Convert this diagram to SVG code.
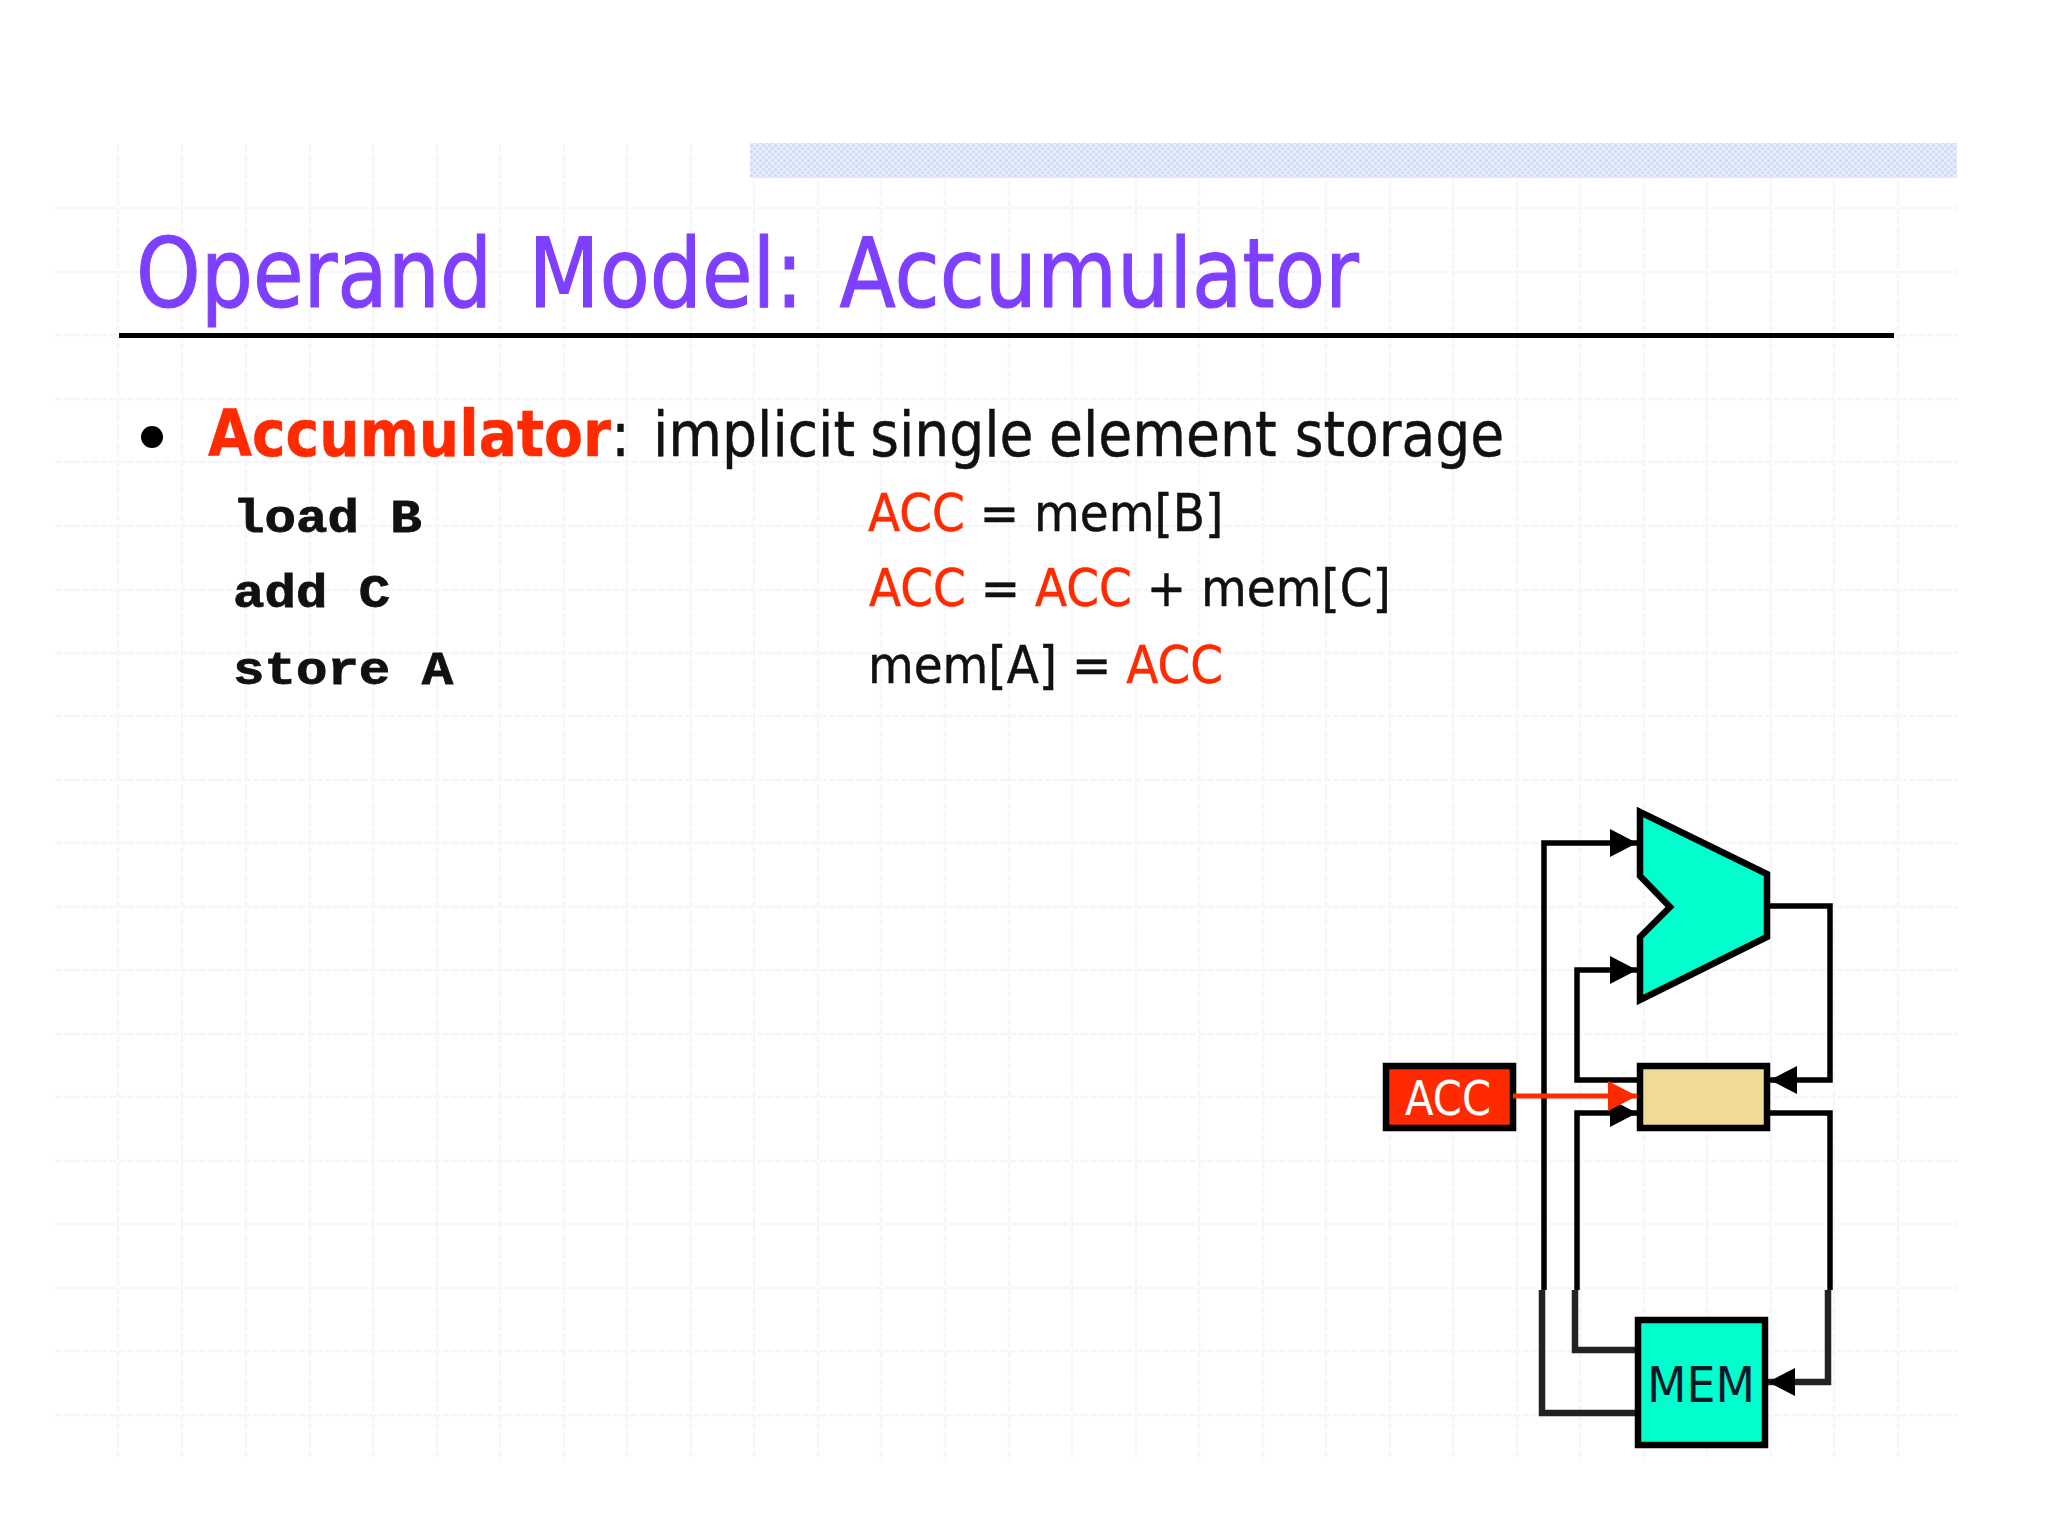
<svg xmlns="http://www.w3.org/2000/svg" width="2048" height="1536" viewBox="0 0 2048 1536">
<defs>
<pattern id="dots" width="6" height="6" patternUnits="userSpaceOnUse"><rect width="6" height="6" fill="#e6edfb"/><circle cx="1.5" cy="1.5" r="1.5" fill="#cdd9f5"/><circle cx="4.5" cy="4.5" r="1.5" fill="#cdd9f5"/></pattern>
<marker id="ah" markerUnits="userSpaceOnUse" markerWidth="28" markerHeight="30" refX="27" refY="14" orient="auto"><path d="M0 0L27 14L0 28Z" fill="#000"/></marker>
<marker id="ahr" markerUnits="userSpaceOnUse" markerWidth="30" markerHeight="32" refX="29" refY="15" orient="auto"><path d="M0 0L29 15L0 30Z" fill="#ff2a00"/></marker>
</defs>
<style>
.bg{fill:#fff}
.grid path{fill:none;stroke:#f5f5fc;stroke-width:2.5;stroke-dasharray:7 2}
.wire{fill:none;stroke:#000;stroke-width:5.5}
.low{fill:none;stroke:#222;stroke-width:6.5}
.box{stroke:#000;stroke-width:6.5}
text{font-family:"DejaVu Sans","Liberation Sans",sans-serif}
.mono{font-family:"Liberation Mono",monospace;font-weight:bold;font-size:46px;fill:#111;stroke:#111;stroke-width:.8}
.body{font-size:52px;fill:#111;stroke:#111;stroke-width:.5}
.r{fill:#ff2a00;stroke:#ff2a00}
</style>
<rect class="bg" width="2048" height="1536"/>
<g class="grid"><path d="M118 145V1460M182 145V1460M246 145V1460M310 145V1460M373 145V1460M437 145V1460M500 145V1460M564 145V1460M627 145V1460M691 145V1460M754 145V1460M818 145V1460M881 145V1460M945 145V1460M1009 145V1460M1072 145V1460M1136 145V1460M1199 145V1460M1263 145V1460M1326 145V1460M1390 145V1460M1453 145V1460M1517 145V1460M1580 145V1460M1644 145V1460M1707 145V1460M1771 145V1460M1834 145V1460M1898 145V1460"/><path d="M55 208H1958M55 272H1958M55 335H1958M55 399H1958M55 462H1958M55 526H1958M55 590H1958M55 653H1958M55 716H1958M55 780H1958M55 843H1958M55 907H1958M55 970H1958M55 1034H1958M55 1097H1958M55 1161H1958M55 1224H1958M55 1288H1958M55 1351H1958M55 1415H1958"/></g>
<rect x="750" y="143" width="1207" height="35" fill="url(#dots)"/>
<text id="title" transform="translate(136 307) scale(.857 1)" font-size="96" fill="#7f3fff" stroke="#7f3fff" stroke-width="1.2">Operand <tspan x="458">Model: </tspan><tspan x="821">Accumulator</tspan></text>
<rect x="119" y="333" width="1775" height="5" fill="#000"/>
<circle cx="152" cy="437" r="11" fill="#000"/>
<text transform="translate(208 456) scale(.89 1)" font-size="62" fill="#111" stroke="#111" stroke-width=".5"><tspan class="r" font-weight="bold" font-size="63.8">Accumulator</tspan><tspan x="453">: </tspan><tspan x="500">implicit </tspan><tspan x="744">single </tspan><tspan x="945">element </tspan><tspan x="1221">storage</tspan></text>
<text transform="translate(233 532) scale(1.14 1)" class="mono">load B</text>
<text transform="translate(233 607) scale(1.14 1)" class="mono">add C</text>
<text transform="translate(233 684) scale(1.14 1)" class="mono">store A</text>
<text transform="translate(868 531) scale(.903 1)" class="body"><tspan class="r">ACC</tspan> = mem[B]</text>
<text transform="translate(869 606) scale(.903 1)" class="body"><tspan class="r">ACC</tspan> = <tspan class="r">ACC</tspan> + mem[C]</text>
<text transform="translate(868 683) scale(.903 1)" class="body">mem[A] = <tspan class="r">ACC</tspan></text>
<g id="connectors">
<path class="low" d="M1638 1413H1542V1290"/>
<path class="wire" d="M1544 1290V843H1637" marker-end="url(#ah)"/>
<path class="wire" d="M1639 1080H1577V970H1637" marker-end="url(#ah)"/>
<path class="low" d="M1638 1350H1575V1290"/>
<path class="wire" d="M1577 1290V1113H1637" marker-end="url(#ah)"/>
<path class="wire" d="M1767 906H1830V1080H1770" marker-end="url(#ah)"/>
<path class="wire" d="M1767 1113H1830V1290"/>
<path class="low" d="M1828 1290V1382H1768" marker-end="url(#ah)"/>
</g>
<g id="alu"><polygon class="box" fill="#00ffcc" points="1640,812 1767,874 1767,937 1640,1000 1640,937 1670,907 1640,876"/></g>
<g id="reg"><rect class="box" x="1640" y="1066" width="127" height="62" fill="#f0da96"/></g>
<g id="mem"><rect class="box" x="1638" y="1320" width="127" height="125" fill="#00ffcc"/><text x="1647" y="1402" font-size="50" fill="#061a28" textLength="108" lengthAdjust="spacingAndGlyphs">MEM</text></g>
<g id="acc"><rect class="box" x="1386" y="1066" width="127" height="62" fill="#ff2a00"/><text x="1405" y="1115" font-size="48" fill="#fff" textLength="86" lengthAdjust="spacingAndGlyphs">ACC</text></g>
<g id="red"><path d="M1513 1096H1637" fill="none" stroke="#ff2a00" stroke-width="5" marker-end="url(#ahr)"/></g>
</svg>
